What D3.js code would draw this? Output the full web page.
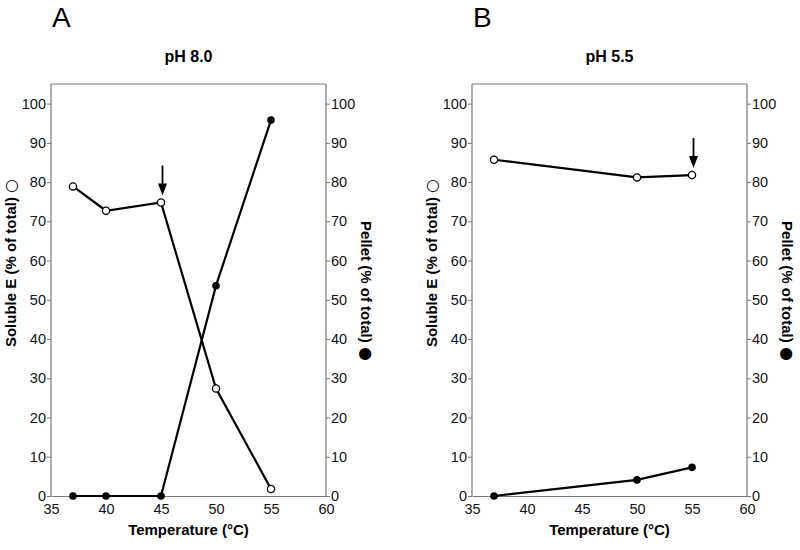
<!DOCTYPE html>
<html><head><meta charset="utf-8">
<script src="https://cdn.jsdelivr.net/npm/d3@7"></script>
<style>body{margin:0;background:#fff;} text{font-family:"Liberation Sans",Arial,sans-serif;}</style>
</head><body><svg id="c" width="800" height="550"></svg>
<script>
// Panel A: pH 8.0
const tempA = [37, 40, 45, 50, 55];
const solubleA = [78.9, 72.7, 74.8, 27.4, 1.8];
const pelletA = [0, 0, 0, 53.6, 95.8];
const arrowA = [45, 74.8];
// Panel B: pH 5.5
const tempB = [37, 50, 55];
const solubleB = [85.7, 81.2, 81.8];
const pelletB = [0, 4.1, 7.3];
const arrowB = [55, 81.8];
const xTicks = [35, 40, 45, 50, 55, 60];
const yTicks = [0, 10, 20, 30, 40, 50, 60, 70, 80, 90, 100];
const panels = [
  {letter: "A", title: "pH 8.0", temp: tempA, sol: solubleA, pel: pelletA, arrow: arrowA, left: 51, right: 326},
  {letter: "B", title: "pH 5.5", temp: tempB, sol: solubleB, pel: pelletB, arrow: arrowB, left: 472, right: 747}
];
const svg = d3.select("#c");
const plotTop = 84, plotBottom = 496;
const axisCol = "#777";
panels.forEach(p => {
  const x = d3.scaleLinear().domain([35, 60]).range([p.left, p.right]);
  const y = d3.scaleLinear().domain([0, 105]).range([plotBottom, plotTop]);
  const g = svg.append("g");
  g.append("line").attr("x1", p.left).attr("x2", p.right).attr("y1", plotTop).attr("y2", plotTop).attr("stroke", axisCol).attr("stroke-width", 1);
  const styleAxis = sel => {
    sel.select(".domain").attr("stroke", axisCol).attr("stroke-width", 1.2);
    sel.selectAll(".tick line").attr("stroke", axisCol);
    sel.selectAll(".tick text").attr("fill", "#111").style("font-size", "14.5px").style("font-family", "Liberation Sans, Arial, sans-serif");
  };
  g.append("g").attr("transform", `translate(0,${plotBottom})`)
    .call(d3.axisBottom(x).tickValues(xTicks).tickSize(0).tickPadding(8).tickSizeOuter(0)).call(styleAxis);
  g.append("g").attr("transform", `translate(${p.left},0)`)
    .call(d3.axisLeft(y).tickValues(yTicks).tickSize(4).tickPadding(1).tickSizeOuter(0)).call(styleAxis)
    .select(".domain").attr("d", `M0,${plotBottom}V${plotTop}`);
  g.append("g").attr("transform", `translate(${p.right},0)`)
    .call(d3.axisRight(y).tickValues(yTicks).tickSize(4).tickPadding(1).tickSizeOuter(0)).call(styleAxis)
    .select(".domain").attr("d", `M0,${plotBottom}V${plotTop}`);
  const cx = (p.left + p.right) / 2;
  g.append("text").attr("x", cx).attr("y", 62).attr("text-anchor", "middle").style("font-size", "16px").style("font-weight", "bold").text(p.title);
  g.append("text").attr("x", p.left + 1).attr("y", 27).style("font-size", "28px").text(p.letter);
  g.append("text").attr("x", cx).attr("y", 535).attr("text-anchor", "middle").style("font-size", "15px").style("font-weight", "bold").text("Temperature (°C)");
  const lt = g.append("text").attr("transform", `translate(${p.left - 35},263) rotate(-90)`).attr("text-anchor", "middle")
    .style("font-size", "15px").style("font-weight", "bold");
  lt.append("tspan").text("Soluble E (% of total) ");
  lt.append("tspan").style("font-size", "16px").style("font-weight", "normal").attr("font-family", "DejaVu Sans").text("○");
  const rt = g.append("text").attr("transform", `translate(${p.right + 35},291) rotate(90)`).attr("text-anchor", "middle")
    .style("font-size", "15px").style("font-weight", "bold");
  rt.append("tspan").text("Pellet (% of total) ");
  rt.append("tspan").style("font-size", "16px").style("font-weight", "normal").attr("font-family", "DejaVu Sans").text("●");
  const line = d3.line().x(d => x(d[0])).y(d => y(d[1]));
  const sol = p.temp.map((t, i) => [t, p.sol[i]]);
  const pel = p.temp.map((t, i) => [t, p.pel[i]]);
  [pel, sol].forEach(d => g.append("path").datum(d).attr("d", line).attr("fill", "none").attr("stroke", "#000").attr("stroke-width", 2.2));
  g.selectAll(".pel").data(pel).enter().append("circle").attr("cx", d => x(d[0])).attr("cy", d => y(d[1])).attr("r", 3.8).attr("fill", "#000");
  g.selectAll(".sol").data(sol).enter().append("circle").attr("cx", d => x(d[0])).attr("cy", d => y(d[1])).attr("r", 3.6).attr("fill", "#fff").attr("stroke", "#000").attr("stroke-width", 1.3);
  const ax = x(p.arrow[0]) + 1.5, ay = y(p.arrow[1]) - 7;
  g.append("line").attr("x1", ax).attr("x2", ax).attr("y1", ay - 30).attr("y2", ay - 10).attr("stroke", "#000").attr("stroke-width", 1.8);
  g.append("path").attr("d", `M${ax - 4.5},${ay - 12}L${ax + 4.5},${ay - 12}L${ax},${ay}Z`).attr("fill", "#000");
});
</script></body></html>
